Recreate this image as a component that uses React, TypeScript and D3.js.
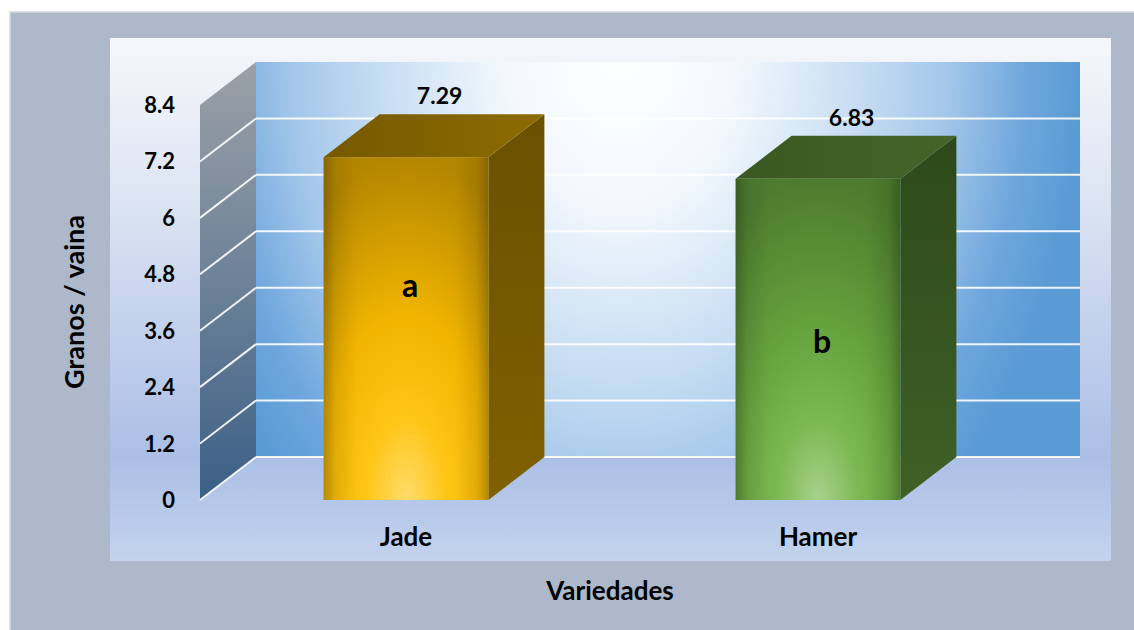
import React from "react"
import * as d3 from "d3"

// values
const categories = ["Jade", "Hamer"]
const values = [7.29, 6.83]
const letters = ["a", "b"]
const yTicks = [0, 1.2, 2.4, 3.6, 4.8, 6, 7.2, 8.4]

const W = 1134
const H = 630
const FONT = "Lato, 'Open Sans', 'DejaVu Sans', sans-serif"

// 3d depth of the walls and bars
const DX = 56
const DY = 43

const barColors = [
  { id: "jade", c0: "#ffdc6a", c1: "#ffc515", c2: "#efb300", c3: "#b38600", top0: "#765900", top1: "#8c6b00", side0: "#6a5000", side1: "#806100" },
  { id: "hamer", c0: "#a8d28c", c1: "#7bb852", c2: "#65a13d", c3: "#4d7c2e", top0: "#3a5821", top1: "#42652a", side0: "#2d491b", side1: "#3e6127" },
]

export default function App() {
  const x = d3.scaleBand<string>().domain(categories).range([200, 1024]).paddingInner(0.6).paddingOuter(0.3)
  const y = d3.scaleLinear().domain([0, 8.4]).range([500, 105])
  const yb = (v: number) => y(v) - DY

  const wallLeft = 200 + DX
  const wallRight = 1024 + DX
  const bw = x.bandwidth()

  // where the letters sit inside each bar (fraction of bar height)
  const letterLift = [0.62, 0.49]

  return (
    <div>
      <style>{"body{margin:0}"}</style>
      <svg width={W} height={H} viewBox={`0 0 ${W} ${H}`} style={{ display: "block", fontFamily: FONT }}>
        <defs>
          <linearGradient id="plotBg" x1="0" y1="0" x2="0" y2="1">
            <stop offset="0" stopColor="#f5f7fb" />
            <stop offset="0.3" stopColor="#dde5f3" />
            <stop offset="0.55" stopColor="#c3d1ec" />
            <stop offset="0.8" stopColor="#abbfe6" />
            <stop offset="1" stopColor="#c3d3ed" />
          </linearGradient>
          <radialGradient id="backWall" gradientUnits="userSpaceOnUse" cx={620} cy={50} r={460}
            gradientTransform="translate(620,50) scale(1,1.35) translate(-620,-50)">
            <stop offset="0" stopColor="#ffffff" />
            <stop offset="0.25" stopColor="#f3f8fd" />
            <stop offset="0.55" stopColor="#c2daf1" />
            <stop offset="0.72" stopColor="#a2c6ea" />
            <stop offset="0.88" stopColor="#6fa7dd" />
            <stop offset="1" stopColor="#5b9bd5" />
          </radialGradient>
          <linearGradient id="sideWall" x1="0" y1="0" x2="0" y2="1">
            <stop offset="0" stopColor="#9ba0a6" />
            <stop offset="0.5" stopColor="#6d8298" />
            <stop offset="1" stopColor="#3b5f86" />
          </linearGradient>
          <linearGradient id="edgeShade" x1="0" y1="0" x2="1" y2="0">
            <stop offset="0" stopColor="#000" stopOpacity="0.25" />
            <stop offset="0.07" stopColor="#000" stopOpacity="0.08" />
            <stop offset="0.2" stopColor="#000" stopOpacity="0" />
            <stop offset="0.8" stopColor="#000" stopOpacity="0" />
            <stop offset="0.93" stopColor="#000" stopOpacity="0.08" />
            <stop offset="1" stopColor="#000" stopOpacity="0.25" />
          </linearGradient>
          {barColors.map((b) => (
            <React.Fragment key={b.id}>
              <radialGradient id={`${b.id}-front`} cx="0.5" cy="1" r="1" fx="0.5" fy="1">
                <stop offset="0" stopColor={b.c0} />
                <stop offset="0.25" stopColor={b.c1} />
                <stop offset="0.55" stopColor={b.c2} />
                <stop offset="1" stopColor={b.c3} />
              </radialGradient>
              <linearGradient id={`${b.id}-top`} x1="0" y1="0" x2="1" y2="0">
                <stop offset="0" stopColor={b.top0} />
                <stop offset="1" stopColor={b.top1} />
              </linearGradient>
              <linearGradient id={`${b.id}-side`} x1="0" y1="0" x2="0" y2="1">
                <stop offset="0" stopColor={b.side0} />
                <stop offset="1" stopColor={b.side1} />
              </linearGradient>
            </React.Fragment>
          ))}
        </defs>

        {/* chart area */}
        <rect x={10} y={12} width={W + 10} height={H + 10} fill="#adb9cb" stroke="#d6d9de" strokeWidth={1.5} />
        {/* plot area */}
        <rect x={110} y={38} width={1001} height={523} fill="url(#plotBg)" />

        {/* walls */}
        <rect x={wallLeft} y={yb(8.4)} width={wallRight - wallLeft} height={yb(0) - yb(8.4)} fill="url(#backWall)" />
        <polygon
          points={`200,${y(0)} 200,${y(8.4)} ${wallLeft},${yb(8.4)} ${wallLeft},${yb(0)}`}
          fill="url(#sideWall)"
        />

        {/* gridlines */}
        {yTicks.slice(0, -1).map((t) => (
          <g key={t} stroke="#ffffff" strokeWidth={2} strokeOpacity={0.9}>
            <line x1={200} y1={y(t)} x2={wallLeft} y2={yb(t)} />
            <line x1={wallLeft} y1={yb(t)} x2={wallRight} y2={yb(t)} />
          </g>
        ))}

        {/* tick labels */}
        {yTicks.map((t) => (
          <text key={t} x={175} y={y(t) + 8} textAnchor="end" fontSize={22} fontWeight="bold" fill="#000">
            {t}
          </text>
        ))}

        {/* bars */}
        {categories.map((c, i) => {
          const x0 = x(c)!
          const yv = y(values[i])
          const y0 = y(0)
          const b = barColors[i]
          return (
            <g key={c}>
              <polygon
                points={`${x0 + bw},${yv} ${x0 + bw + DX},${yv - DY} ${x0 + bw + DX},${y0 - DY} ${x0 + bw},${y0}`}
                fill={`url(#${b.id}-side)`}
              />
              <polygon
                points={`${x0},${yv} ${x0 + DX},${yv - DY} ${x0 + bw + DX},${yv - DY} ${x0 + bw},${yv}`}
                fill={`url(#${b.id}-top)`}
              />
              <rect x={x0} y={yv} width={bw} height={y0 - yv} fill={`url(#${b.id}-front)`} />
              <rect x={x0} y={yv} width={bw} height={y0 - yv} fill="url(#edgeShade)" />
              <text
                x={x0 + bw / 2 + DX * 0.6}
                y={yv - DY - 10}
                textAnchor="middle"
                fontSize={23}
                fontWeight="bold"
                fill="#000"
              >
                {values[i].toFixed(2)}
              </text>
              <text
                x={x0 + bw / 2 + 4}
                y={y(values[i] * letterLift[i]) + 10}
                textAnchor="middle"
                fontSize={32}
                fontWeight="bold"
                fill="#000"
              >
                {letters[i]}
              </text>
              <text x={x0 + bw / 2} y={546} textAnchor="middle" fontSize={26} fontWeight="bold" fill="#000">
                {c}
              </text>
            </g>
          )
        })}

        {/* axis titles */}
        <text x={610} y={600} textAnchor="middle" fontSize={26} fontWeight="bold" fill="#000">
          Variedades
        </text>
        <text
          transform={`translate(84,302) rotate(-90)`}
          textAnchor="middle"
          fontSize={27}
          fontWeight="bold"
          fill="#000"
        >
          Granos / vaina
        </text>
      </svg>
    </div>
  )
}
